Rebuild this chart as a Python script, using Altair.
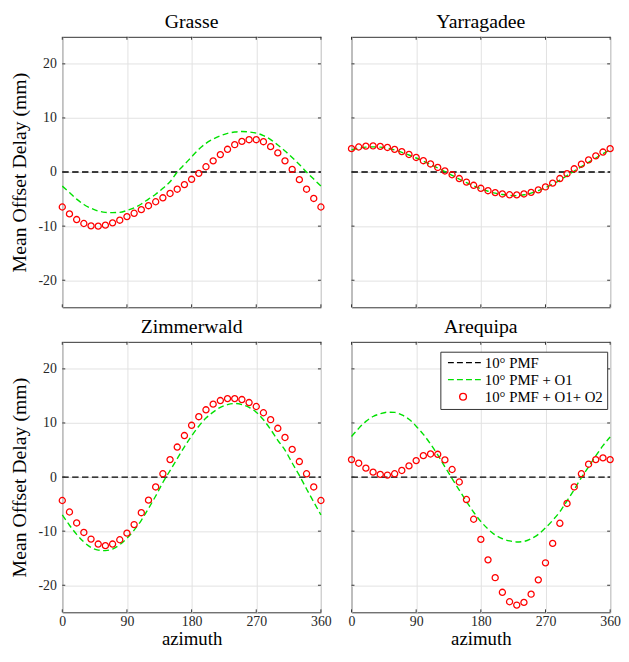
import altair as alt

# ---------------- data ----------------
azimuth = list(range(0, 361, 10))
series_names = ["10° PMF", "10° PMF + O1", "10° PMF + O1+ O2"]

# 10° PMF reference (zero offset line)
pmf_az = [0, 360]
pmf_val = [0.0, 0.0]

grasse_o1 = [-2.6, -3.8, -5.0, -6.0, -6.7, -7.2, -7.45, -7.5, -7.45, -7.1,
             -6.6, -5.9, -5.0, -4.1, -3.0, -1.8, 0.0, 1.4, 2.8, 4.2,
             5.3, 6.1, 6.7, 7.15, 7.4, 7.5, 7.4, 7.2, 6.75, 6.0,
             5.0, 3.9, 2.7, 1.4, 0.0, -1.3, -2.6]
grasse_o12 = [-6.46, -7.74, -8.78, -9.51, -9.94, -10.0, -9.82, -9.39, -8.90, -8.23,
              -7.62, -6.95, -6.22, -5.49, -4.76, -3.96, -3.17, -2.32, -1.34, -0.24,
              0.98, 2.07, 3.23, 4.21, 5.06, 5.67, 5.98, 5.98, 5.61, 4.70,
              3.54, 2.07, 0.49, -1.40, -3.17, -4.88, -6.46]

yarra_o1 = [4.1, 4.4, 4.6, 4.65, 4.6, 4.4, 4.1, 3.65, 3.15, 2.6,
            2.0, 1.4, 0.75, 0.1, -0.6, -1.3, -1.95, -2.55, -3.1, -3.55,
            -3.9, -4.15, -4.3, -4.35, -4.2, -3.9, -3.45, -2.9, -2.25, -1.5,
            -0.65, 0.2, 1.0, 1.8, 2.6, 3.4, 4.1]
yarra_o12 = [4.33, 4.63, 4.8, 4.83, 4.75, 4.55, 4.2, 3.78, 3.25, 2.7,
             2.1, 1.5, 0.85, 0.2, -0.5, -1.2, -1.85, -2.45, -3.0, -3.45,
             -3.8, -4.05, -4.2, -4.22, -4.05, -3.75, -3.3, -2.75, -2.05, -1.2,
             -0.3, 0.6, 1.45, 2.25, 3.0, 3.7, 4.33]

zimm_o1 = [-7.0, -8.9, -10.6, -12.0, -13.0, -13.5, -13.6, -13.3, -12.5, -11.3,
           -9.8, -8.0, -5.8, -3.5, -1.0, 1.2, 3.4, 5.6, 7.6, 9.4,
           10.9, 12.0, 12.9, 13.4, 13.6, 13.4, 12.9, 12.0, 10.6, 8.8,
           6.8, 5.0, 2.6, 0.3, -2.2, -4.6, -7.0]
zimm_o12 = [-4.33, -6.46, -8.48, -10.24, -11.46, -12.38, -12.68, -12.38, -11.59, -10.37,
            -8.78, -6.59, -4.27, -1.83, 0.61, 3.23, 5.55, 7.68, 9.57, 11.16,
            12.44, 13.48, 14.15, 14.51, 14.51, 14.33, 13.78, 13.05, 11.89, 10.61,
            9.02, 7.32, 5.12, 2.87, 0.61, -1.83, -4.33]

areq_o1 = [7.5, 9.0, 10.3, 11.2, 11.7, 12.0, 11.95, 11.5, 10.7, 9.4,
           7.9, 6.1, 4.1, 1.9, -0.3, -2.4, -4.5, -6.5, -8.2, -9.6,
           -10.7, -11.4, -11.8, -12.0, -11.9, -11.4, -10.6, -9.4, -8.0, -6.4,
           -4.4, -2.3, -0.1, 1.9, 3.9, 5.8, 7.4]
areq_o12 = [3.23, 2.56, 1.65, 0.91, 0.49, 0.37, 0.61, 1.22, 2.07, 3.05,
            3.96, 4.27, 4.21, 3.17, 1.40, -0.91, -4.15, -7.80, -11.52, -15.30,
            -18.6, -21.3, -23.05, -23.66, -23.17, -21.65, -19.0, -15.85, -12.26, -8.54,
            -4.88, -1.83, 0.61, 2.38, 3.23, 3.54, 3.23]

stations = ["Grasse", "Yarragadee", "Zimmerwald", "Arequipa"]
x_ticks = [0, 90, 180, 270, 360]
y_ticks = [-20, -10, 0, 10, 20]

# ---------------- style ----------------
SERIF = "Liberation Serif"
FRAME = "#333333"
GREEN = "#00e000"
RED = "#ff0000"
W, H = 262, 274

DASH_PATH = "M-0.85,0H-0.52M-0.345,0H-0.01M0.165,0H0.5M0.67,0H1"
CIRCLE_PATH = "M-0.19,0A0.19,0.19,0,1,1,0.19,0A0.19,0.19,0,1,1,-0.19,0Z"


def panel(name, o1, o12, left, bottom, legend):
    xs = alt.Scale(domain=[0, 360], nice=False, zero=False)
    ys = alt.Scale(domain=[-25, 25], nice=False, zero=False)

    xax = dict(values=x_ticks, grid=True, ticks=False, domain=False,
               labels=bottom, labelPadding=2, labelFlush=False,
               labelExpr="'' + datum.value")
    if bottom:
        xax["title"] = "azimuth"
        xax["titlePadding"] = 2
    else:
        xax["title"] = None
    yax = dict(values=y_ticks, grid=True, ticks=False, domain=False,
               labels=left, labelPadding=6, labelExpr="'' + datum.value")
    if left:
        yax["title"] = "Mean Offset Delay (mm)"
        yax["titlePadding"] = 9
    else:
        yax["title"] = None
    x_axis = alt.Axis(**xax)
    y_axis = alt.Axis(**yax)

    zero = alt.Chart(alt.Data(values=[{"az": a, "v": v} for a, v in zip(pmf_az, pmf_val)])).mark_line(
        color="#000000", strokeDash=[6.5, 3.5], strokeWidth=1.4
    ).encode(
        x=alt.X("az:Q", scale=xs, axis=x_axis),
        y=alt.Y("v:Q", scale=ys, axis=y_axis),
    )

    rows = [{"az": a, "o1": g, "o12": r} for a, g, r in zip(azimuth, o1, o12)]
    base = alt.Chart(alt.Data(values=rows))
    green = base.mark_line(
        color=GREEN, strokeDash=[6, 3.5], strokeWidth=1.4, interpolate="monotone"
    ).encode(
        x=alt.X("az:Q", scale=xs, axis=x_axis),
        y=alt.Y("o1:Q", scale=ys, axis=y_axis),
    )
    red = base.mark_point(
        shape="circle", filled=False, color=RED, size=38, strokeWidth=1.3, opacity=1
    ).encode(
        x=alt.X("az:Q", scale=xs, axis=x_axis),
        y=alt.Y("o12:Q", scale=ys, axis=y_axis),
    )

    yt = alt.Chart(alt.Data(values=[{"t": t} for t in y_ticks]))
    xt = alt.Chart(alt.Data(values=[{"t": t} for t in x_ticks]))
    ytl = yt.mark_rule(color=FRAME, strokeWidth=1).encode(
        y=alt.Y("t:Q", scale=ys, axis=y_axis), x=alt.value(0), x2=alt.value(3))
    ytr = yt.mark_rule(color=FRAME, strokeWidth=1).encode(
        y=alt.Y("t:Q", scale=ys, axis=y_axis), x=alt.value(W - 3), x2=alt.value(W))
    xtb = xt.mark_rule(color=FRAME, strokeWidth=1).encode(
        x=alt.X("t:Q", scale=xs, axis=x_axis), y=alt.value(H - 3), y2=alt.value(H))
    xtt = xt.mark_rule(color=FRAME, strokeWidth=1).encode(
        x=alt.X("t:Q", scale=xs, axis=x_axis), y=alt.value(0), y2=alt.value(3))

    layers = [zero, green, red, ytl, ytr, xtb, xtt]

    if legend:
        leg = alt.Legend(
            title=None, orient="none", legendX=90, legendY=10,
            symbolSize=1296, symbolStrokeWidth=1.4, clipHeight=14, rowPadding=2.3,
            labelFont=SERIF, labelFontSize=15, labelColor="black", labelOffset=3,
            labelLimit=0, padding=4, strokeColor=FRAME, fillColor="white",
        )
        lrows = [{"az": None, "v": None, "s": s} for s in series_names]
        leg_layer = alt.Chart(alt.Data(values=lrows)).mark_point(
            filled=False, size=1296, strokeWidth=1.4, opacity=1
        ).encode(
            x=alt.X("az:Q", scale=xs, axis=x_axis),
            y=alt.Y("v:Q", scale=ys, axis=y_axis),
            color=alt.Color("s:N", scale=alt.Scale(domain=series_names,
                                                   range=["#000000", GREEN, RED]), legend=leg),
            shape=alt.Shape("s:N", scale=alt.Scale(domain=series_names,
                                                   range=[DASH_PATH, DASH_PATH, CIRCLE_PATH]), legend=leg),
        )
        layers.append(leg_layer)

    return alt.layer(*layers).properties(
        width=W, height=H,
        title=alt.TitleParams(text=name, font=SERIF, fontSize=20, fontWeight="normal",
                              color="black", anchor="middle", offset=4),
    )


p1 = panel(stations[0], grasse_o1, grasse_o12, True, False, False)
p2 = panel(stations[1], yarra_o1, yarra_o12, False, False, False)
p3 = panel(stations[2], zimm_o1, zimm_o12, True, True, False)
p4 = panel(stations[3], areq_o1, areq_o12, False, True, True)

chart = alt.concat(p1, p2, p3, p4, columns=2, spacing={"row": 35, "column": 31}, bounds="flush").resolve_scale(
    color="independent", shape="independent"
).resolve_legend(
    color="independent", shape="independent"
).properties(
    padding={"left": 0, "top": 0, "right": 0, "bottom": -3},
    background="white",
).configure_view(
    stroke=FRAME, strokeWidth=1
).configure_axis(
    labelFont=SERIF, titleFont=SERIF, labelFontSize=14, titleFontSize=19,
    labelColor="#262626", titleColor="black", titleFontWeight="normal",
    gridColor="#e2e2e2", gridWidth=1,
).configure_axisY(
    titleFontSize=20
)

chart.save("out.html", embed_options={"renderer": "svg", "actions": False})
